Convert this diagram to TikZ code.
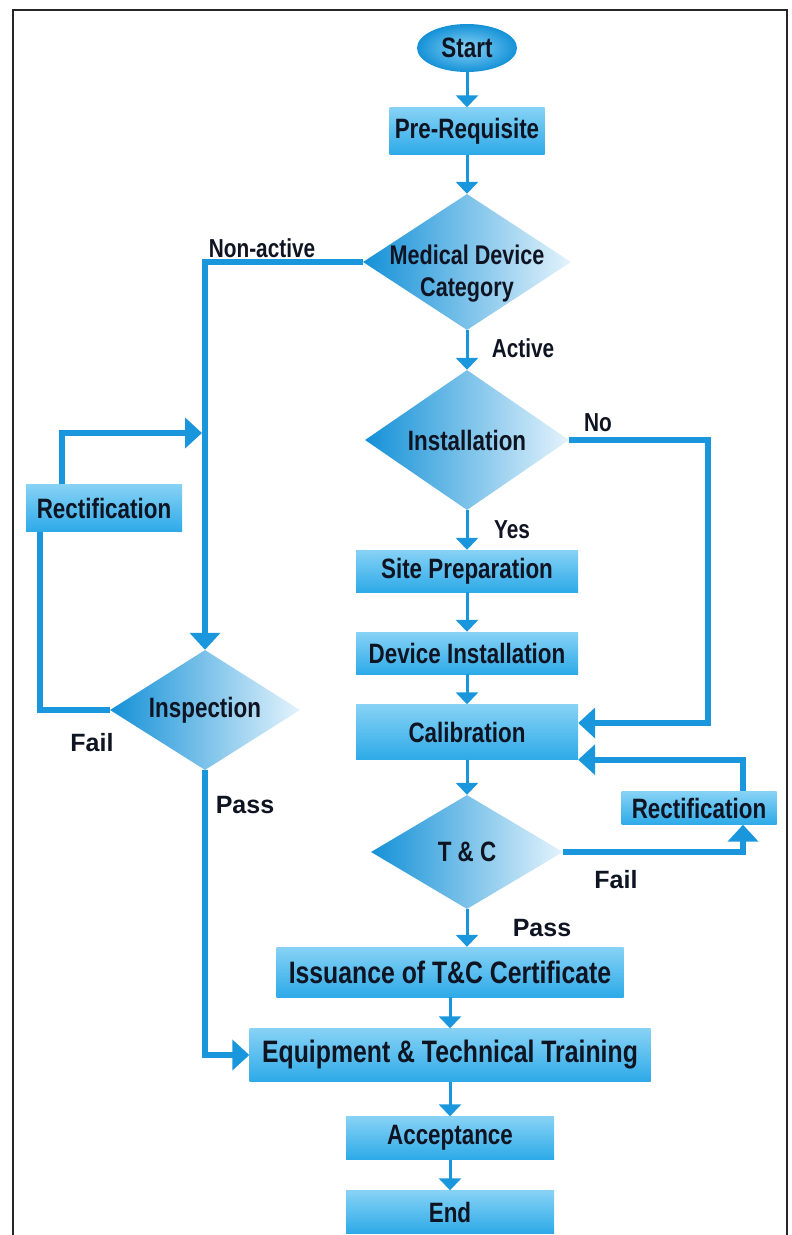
\documentclass[tikz,border=0pt]{standalone}
\usepackage{xcolor}
\usepackage{fontspec}
\setmainfont{Liberation Sans}[FakeStretch=0.8]
\newfontfamily\widefont{Liberation Sans}
\usepackage{tikz}
\usetikzlibrary{arrows.meta, shapes.geometric}

\definecolor{flowblue}{RGB}{25,150,220}
\definecolor{boxtop}{RGB}{135,210,245}
\definecolor{boxbot}{RGB}{45,170,232}
\definecolor{diadark}{RGB}{20,145,215}
\definecolor{dialight}{RGB}{228,243,252}
\definecolor{ink}{RGB}{15,20,35}

\begin{document}
\begin{tikzpicture}[x=1pt, y=-1pt,
    txt/.style={font=\bfseries\fontsize{28}{29}\selectfont, text=ink},
    bigtxt/.style={font=\bfseries\fontsize{31}{32}\selectfont, text=ink},
    lbl/.style={font=\bfseries\fontsize{26}{27}\selectfont, text=ink},
    passfail/.style={font=\widefont\bfseries\fontsize{25}{26}\selectfont, text=ink},
    box/.style={rectangle, inner sep=0pt, top color=boxtop, bottom color=boxbot},
    decision/.style={diamond, inner sep=0pt, left color=diadark, right color=dialight},
    flow/.style={draw=flowblue, line width=3pt, -{Triangle[width=22pt,length=12pt]}},
    loopline/.style={draw=flowblue, line width=6pt, -{Triangle[width=30pt,length=17pt]}},
    plainloop/.style={draw=flowblue, line width=6pt}]
    \useasboundingbox (0,0) rectangle (792,1235);
    \draw[black!85, line width=2pt] (13,1240) -- (13,10) -- (787,10) -- (787,1240);

    % main column
    \node[ellipse, minimum width=100pt, minimum height=48pt, inner sep=0pt,
          inner color=boxtop, outer color=diadark, txt] at (467, 48) (start) {Start};
    \node[box, txt, minimum width=155pt, minimum height=47pt] at (467, 131) (pre) {Pre-Requisite};
    \node[decision, minimum width=208pt, minimum height=136pt,
          label={[font=\bfseries\fontsize{27}{32}\selectfont, text=ink, align=center, yshift=-12pt]center:Medical Device\\Category}] at (467, 262) (mdc) {};
    \node[decision, minimum width=204pt, minimum height=140pt,
          label={[txt]center:Installation}] at (467, 440) (inst) {};
    \node[box, txt, minimum width=222pt, minimum height=42pt] at (467, 571) (site) {Site Preparation};
    \node[box, txt, minimum width=222pt, minimum height=42pt] at (467, 653) (dev) {Device Installation};
    \node[box, txt, minimum width=222pt, minimum height=55pt] at (467, 732) (cal) {Calibration};
    \node[decision, minimum width=192pt, minimum height=114pt,
          label={[txt]center:T \& C}] at (467, 852) (tc) {};
    \node[box, txt, minimum width=155pt, minimum height=33pt] at (699, 808) (rect2) {Rectification};
    \node[box, bigtxt, minimum width=347pt, minimum height=50pt] at (450, 972) (iss) {Issuance of T\&C Certificate};
    \node[box, bigtxt, minimum width=401pt, minimum height=53pt] at (450, 1055) (equip) {Equipment \& Technical Training};
    \node[box, txt, minimum width=208pt, minimum height=43pt] at (450, 1138) (acc) {Acceptance};
    \node[box, txt, minimum width=208pt, minimum height=43pt] at (450, 1212) (end) {End};

    % left branch
    \node[box, txt, minimum width=156pt, minimum height=47pt] at (104, 508) (rect1) {Rectification};
    \node[decision, minimum width=190pt, minimum height=120pt,
          label={[txt]center:Inspection}] at (205, 710) (insp) {};
    \coordinate (join) at (202, 433);

    % labels
    \node[lbl] at (262, 248) (nonactive) {Non-active};
    \node[lbl] at (523, 348) (active) {Active};
    \node[lbl] at (598, 423) (no) {No};
    \node[lbl] at (512, 530) (yes) {Yes};
    \node[passfail] at (616, 880) (fail2) {Fail};
    \node[passfail] at (542, 928) (pass2) {Pass};
    \node[passfail] at (92, 743) (fail1) {Fail};
    \node[passfail] at (245, 805) (pass1) {Pass};

    \draw[flow] (start) -- (pre);
    \draw[flow] (pre) -- (mdc);
    \draw[flow] (mdc) -- (inst);
    \draw[flow] (inst) -- (site);
    \draw[flow] (site) -- (dev);
    \draw[flow] (dev) -- (cal);
    \draw[flow] (cal) -- (tc);
    \draw[flow] (tc.south) -- (tc.south |- iss.north);
    \draw[flow] (iss) -- (equip);
    \draw[flow] (equip) -- (acc);
    \draw[flow] (acc) -- (end);

    \draw[loopline] (inst.east) -| ([xshift=130pt,yshift=9pt]cal.east) -- ([yshift=9pt]cal.east);
    \draw[loopline] (tc.east) -| ([xshift=44pt]rect2.south);
    \draw[loopline] ([xshift=44pt]rect2.north) |- (cal.south east);

    \draw[loopline] (mdc.west) -| (insp.north);
    \draw[plainloop] (insp.west) -| ([xshift=-64pt]rect1.south);
    \draw[loopline] ([xshift=-42pt]rect1.north) |- (join);
    \draw[loopline] (insp.south) |- (equip.west);
\end{tikzpicture}
\end{document}
